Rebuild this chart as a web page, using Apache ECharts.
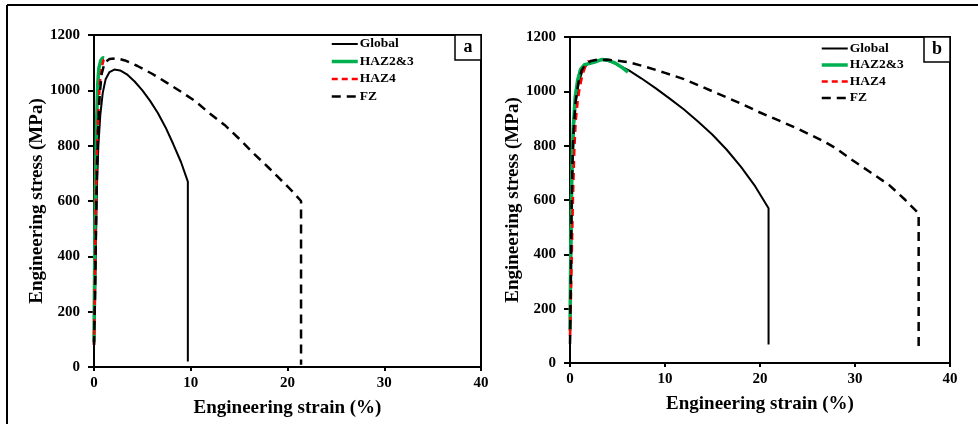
<!DOCTYPE html>
<html>
<head>
<meta charset="utf-8">
<script src="https://cdn.jsdelivr.net/npm/echarts@6/dist/echarts.min.js"></script>
<style>
html,body{margin:0;padding:0;background:#fff;}
#chart{width:978px;height:424px;}
</style>
</head>
<body>
<div id="chart"></div>
<script>
// ---- Data (strain %, stress MPa) ----
const seriesNames = ['Global', 'HAZ2&3', 'HAZ4', 'FZ'];
const panelLabels = ['a', 'b'];
const xTicks = [0, 10, 20, 30, 40];
const yTicks = [0, 200, 400, 600, 800, 1000, 1200];

const globalA = [[0,80],[0.1,200],[0.2,450],[0.3,650],[0.45,800],[0.65,910],[0.9,990],[1.2,1040],[1.6,1066],[2.1,1075],[2.7,1072],[3.4,1058],[4.2,1032],[5,1000],[5.8,962],[6.6,918],[7.4,866],[8.2,805],[9,740],[9.7,670],[9.7,20]];
const hazA = [[0,90],[0.05,300],[0.1,520],[0.18,720],[0.28,900],[0.38,1020],[0.5,1080],[0.7,1108],[0.9,1118],[1.05,1117]];
const haz4A = [[0,80],[0.07,250],[0.14,480],[0.25,720],[0.42,900],[0.6,1025],[0.8,1085],[1.0,1110],[1.2,1116]];
const fzA = [[0,80],[0.1,250],[0.2,480],[0.3,700],[0.45,880],[0.6,990],[0.8,1060],[1.1,1100],[1.6,1113],[2.3,1116],[3.2,1108],[4.5,1088],[6,1060],[7.5,1028],[9,995],[10.5,960],[12,915],[13.5,875],[15,825],[16.5,772],[18,722],[19.5,670],[20.5,635],[21.4,600],[21.4,8]];

const globalB = [[0,70],[0.08,300],[0.16,560],[0.26,740],[0.38,857],[0.6,960],[0.9,1029],[1.3,1075],[1.8,1100],[2.5,1112],[3.3,1116],[4.2,1110],[5.2,1095],[6.2,1077],[7.5,1048],[9,1012],[10.5,973],[12,933],[13.5,888],[15,840],[16.5,785],[18,722],[19.5,650],[20.9,570],[20.9,68]];
const hazB = [[0,120],[0.05,300],[0.12,520],[0.2,720],[0.35,870],[0.55,980],[0.8,1040],[1.1,1080],[1.5,1098],[2.0,1102],[2.6,1108],[3.3,1117],[4,1115],[4.7,1105],[5.4,1090],[6.1,1071]];
const haz4B = [[0,100],[0.1,250],[0.2,420],[0.32,620],[0.45,780],[0.6,890],[0.8,960],[1.0,1010],[1.3,1060],[1.6,1090],[2.0,1114]];
const fzB = [[0,70],[0.08,300],[0.16,560],[0.26,740],[0.38,857],[0.6,965],[0.9,1035],[1.2,1075],[1.6,1098],[2.2,1112],[3,1117],[4,1116],[5,1113],[6.2,1107],[8,1090],[10,1068],[12,1045],[14,1015],[16,985],[18,955],[20,922],[22.3,888],[24,862],[26.5,820],[28,790],[29.7,747],[31.5,705],[33.6,655],[35.3,600],[36.7,550],[36.7,55]];

// ---- Styling / layout ----
const FONT = "'Liberation Serif', 'Times New Roman', serif";
const styles = [
  {
    'Global': {color:'#000000', width:2, type:'solid'},
    'HAZ2&3': {color:'#00b050', width:3.5, type:'solid'},
    'HAZ4': {color:'#ff0000', width:2.5, type:[6,4]},
    'FZ': {color:'#000000', width:2.5, type:[9,6]}
  },
  {
    'Global': {color:'#000000', width:2, type:'solid'},
    'HAZ2&3': {color:'#00b050', width:3.5, type:'solid'},
    'HAZ4': {color:'#ff0000', width:2.5, type:[7,5]},
    'FZ': {color:'#000000', width:2.5, type:[9,6]}
  }
];
const panelData = [
  {'Global':globalA,'HAZ2&3':hazA,'HAZ4':haz4A,'FZ':fzA},
  {'Global':globalB,'HAZ2&3':hazB,'HAZ4':haz4B,'FZ':fzB}
];
const grids = [
  {left:94, top:35, width:387, height:332},
  {left:570, top:37, width:380, height:326}
];
const legendPos = [{left:330, top:37, itemGap:3.5}, {left:820, top:41.5, itemGap:2.5}];

const labelStyle = (m) => ({color:'#000', fontFamily:FONT, fontWeight:'bold', fontSize:15, margin:m, formatter:(v) => String(v)});
const nameStyle = {color:'#000', fontFamily:FONT, fontWeight:'bold', fontSize:19};

const xAxes = [], yAxes = [], series = [], legends = [], graphics = [];
grids.forEach((g, i) => {
  xAxes.push({
    type:'value', gridIndex:i, min:xTicks[0], max:xTicks[xTicks.length-1], interval:xTicks[1]-xTicks[0],
    name:'Engineering strain (%)', nameLocation:'middle', nameGap:32, nameTextStyle:nameStyle,
    axisLine:{show:true, lineStyle:{color:'#000', width:2}},
    splitLine:{show:false},
    axisTick:{show:true, inside:false, length:4, lineStyle:{color:'#000', width:2}},
    axisLabel:labelStyle(9)
  });
  yAxes.push({
    type:'value', gridIndex:i, min:yTicks[0], max:yTicks[yTicks.length-1], interval:yTicks[1]-yTicks[0],
    name:'Engineering stress (MPa)', nameLocation:'middle', nameGap:43, nameTextStyle:nameStyle,
    axisLine:{show:true, lineStyle:{color:'#000', width:2}},
    splitLine:{show:false},
    axisTick:{show:true, inside:false, length:6, lineStyle:{color:'#000', width:2}},
    axisLabel:labelStyle(14)
  });
  seriesNames.forEach(n => {
    const s = styles[i][n];
    series.push({
      name:n, type:'line', xAxisIndex:i, yAxisIndex:i,
      data:panelData[i][n], showSymbol:false, symbol:'none', smooth:false,
      lineStyle:{color:s.color, width:s.width, type:s.type},
      itemStyle:{color:s.color}, animation:false, clip:true
    });
  });
  legends.push({
    orient:'vertical', left:legendPos[i].left, top:legendPos[i].top, padding:0,
    itemWidth:26, itemHeight:14, itemGap:legendPos[i].itemGap,
    data:seriesNames.slice(), selectedMode:false,
    lineStyle:{width:'inherit'},
    itemStyle:{opacity:0},
    textStyle:{color:'#000', fontFamily:FONT, fontWeight:'bold', fontSize:13.5, padding:[0,0,0,-3]}
  });
  // panel label box in the top-right corner of the plot area
  const bx = g.left + g.width - 26, by = g.top;
  graphics.push({type:'rect', shape:{x:bx, y:by, width:26, height:25}, style:{fill:'#fff', stroke:'#000', lineWidth:1.5}, z:10});
  graphics.push({type:'text', x:bx+13, y:by+12.5, style:{text:panelLabels[i], fill:'#000', font:'bold 18px ' + FONT, textAlign:'center', textVerticalAlign:'middle'}, z:11});
});
// outer figure frame (top and left edges)
graphics.push({type:'line', shape:{x1:7, y1:5, x2:978, y2:5}, style:{stroke:'#000', lineWidth:2}});
graphics.push({type:'line', shape:{x1:7, y1:5, x2:7, y2:424}, style:{stroke:'#000', lineWidth:2}});

const chart = echarts.init(document.getElementById('chart'), null, {renderer:'canvas'});
chart.setOption({
  backgroundColor:'#fff',
  animation:false,
  grid:grids.map(g => Object.assign({show:true, borderColor:'#000', borderWidth:2, backgroundColor:'transparent', containLabel:false}, g)),
  xAxis:xAxes, yAxis:yAxes, series:series, legend:legends, graphic:graphics
});
</script>
</body>
</html>
